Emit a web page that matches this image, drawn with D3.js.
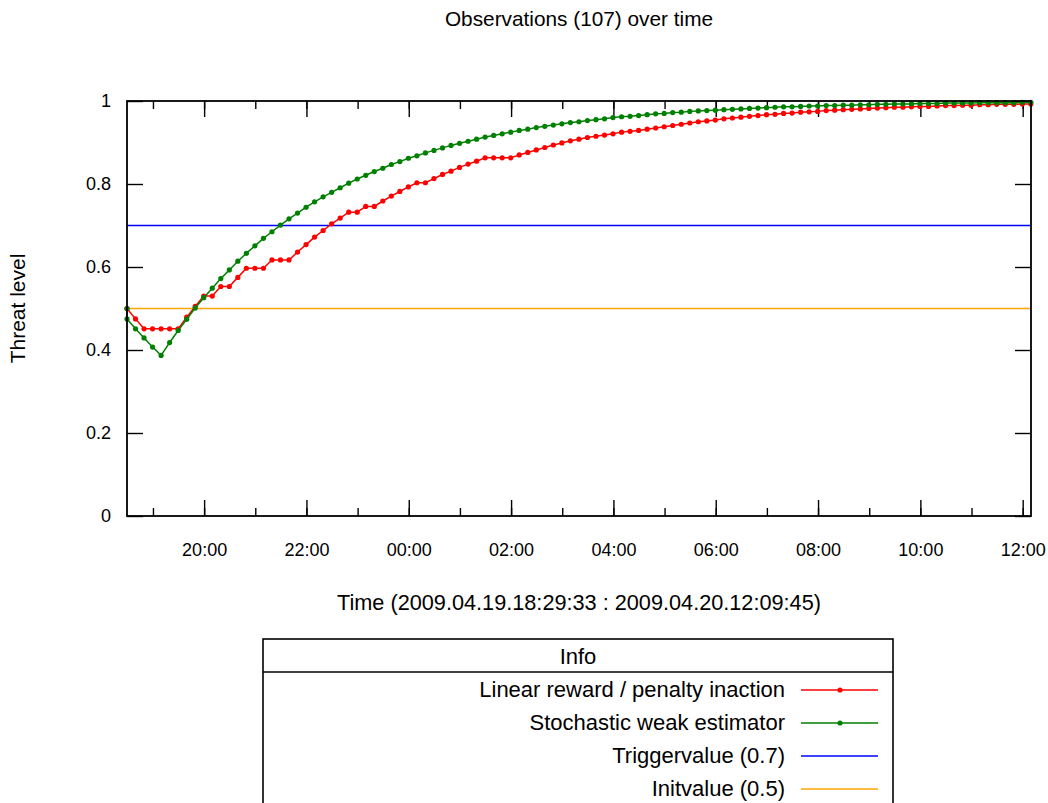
<!DOCTYPE html>
<html>
<head>
<meta charset="utf-8">
<script src="https://cdn.jsdelivr.net/npm/d3@7"></script>
<style>
  body { margin: 0; background: #fff; }
  svg { display: block; font-family: "Liberation Sans", Arial, sans-serif; }
</style>
</head>
<body>
<svg id="chart" width="1048" height="803"></svg>
<script>
// observation window and sampling
var startTime = "2009.04.19.18:29:33"
var endTime = "2009.04.20.12:09:45"
var stepMinutes = 10
var initValue = 0.5
var triggerValue = 0.7
var yTicks = [0, 0.2, 0.4, 0.6, 0.8, 1]
var legendNames = ["Linear reward / penalty inaction", "Stochastic weak estimator", "Triggervalue (0.7)", "Initvalue (0.5)"]
var legendColors = ["#ff0000", "#008000", "#0000ff", "#ffa500"]

// linear reward / penalty inaction, one value per observation
var lrpValues = [
  0.500, 0.475, 0.451, 0.451, 0.451, 0.451, 0.451, 0.479, 0.505, 0.530,
  0.530, 0.553, 0.553, 0.575, 0.597, 0.597, 0.597, 0.617, 0.617, 0.617,
  0.636, 0.654, 0.672, 0.688, 0.704, 0.718, 0.732, 0.732, 0.746, 0.746,
  0.759, 0.771, 0.782, 0.793, 0.803, 0.803, 0.813, 0.823, 0.831, 0.840,
  0.848, 0.855, 0.863, 0.863, 0.863, 0.863, 0.870, 0.876, 0.882, 0.888,
  0.894, 0.899, 0.904, 0.908, 0.912, 0.915, 0.918, 0.921, 0.925, 0.927,
  0.929, 0.932, 0.935, 0.938, 0.941, 0.944, 0.947, 0.950, 0.952, 0.954,
  0.957, 0.959, 0.961, 0.963, 0.965, 0.967, 0.968, 0.970, 0.971, 0.973,
  0.974, 0.975, 0.977, 0.978, 0.979, 0.980, 0.981, 0.982, 0.983, 0.984,
  0.985, 0.985, 0.986, 0.987, 0.987, 0.988, 0.989, 0.989, 0.990, 0.990,
  0.991, 0.991, 0.992, 0.992, 0.992, 0.993, 0.993
]

// stochastic weak estimator, one value per observation (plus the init point)
var sweValues = [
  0.475, 0.451, 0.429, 0.407, 0.387, 0.418, 0.447, 0.474, 0.501, 0.526,
  0.549, 0.572, 0.593, 0.614, 0.633, 0.651, 0.669, 0.685, 0.701, 0.716,
  0.730, 0.744, 0.757, 0.769, 0.780, 0.791, 0.802, 0.812, 0.821, 0.830,
  0.838, 0.847, 0.854, 0.862, 0.868, 0.875, 0.881, 0.887, 0.893, 0.898,
  0.903, 0.908, 0.913, 0.917, 0.921, 0.925, 0.929, 0.932, 0.936, 0.939,
  0.942, 0.945, 0.948, 0.950, 0.953, 0.955, 0.957, 0.960, 0.962, 0.963,
  0.965, 0.967, 0.969, 0.970, 0.972, 0.973, 0.975, 0.976, 0.977, 0.978,
  0.979, 0.980, 0.981, 0.982, 0.983, 0.984, 0.985, 0.986, 0.986, 0.987,
  0.988, 0.988, 0.989, 0.989, 0.990, 0.990, 0.991, 0.991, 0.992, 0.992,
  0.993, 0.993, 0.993, 0.994, 0.994, 0.994, 0.995, 0.995, 0.995, 0.995,
  0.996, 0.996, 0.996, 0.996, 0.996, 0.997, 0.997
]

var svg = d3.select("#chart")
var plotLeft = 127, plotRight = 1031, plotTop = 101, plotBottom = 516
var labelSize = 21

var parse = d3.timeParse("%Y.%m.%d.%H:%M:%S")
var t0 = parse(startTime)
var t1 = parse(endTime)

var x = d3.scaleTime().domain([t0, t1]).range([plotLeft, plotRight])
var y = d3.scaleLinear().domain([0, 1]).range([plotBottom, plotTop])

var lrp = lrpValues.map(function (v, i) { return { t: d3.timeMinute.offset(t0, i * stepMinutes), v: v } })
var swe = [{ t: t0, v: initValue }].concat(sweValues.map(function (v, i) {
  return { t: d3.timeMinute.offset(t0, i * stepMinutes), v: v }
}))

// axes, ticks pointing inward on all four sides
function styleAxis(g) {
  g.select(".domain").remove()
  g.selectAll("line").attr("stroke", "#000").attr("stroke-width", 1.4)
  g.attr("font-family", null).attr("font-size", 18)
  g.selectAll("text").attr("fill", "#000")
}

svg.append("g")
  .attr("transform", "translate(" + plotLeft + ",0)")
  .call(d3.axisLeft(y).tickValues(yTicks).tickSize(-16).tickPadding(16).tickFormat(d3.format("")))
  .call(styleAxis)

svg.append("g")
  .attr("transform", "translate(" + plotRight + ",0)")
  .call(d3.axisRight(y).tickValues(yTicks).tickSize(-16).tickFormat(""))
  .call(styleAxis)

svg.append("g")
  .attr("transform", "translate(0," + plotBottom + ")")
  .call(d3.axisBottom(x).ticks(d3.timeHour.every(1)).tickSize(-8).tickFormat(""))
  .call(styleAxis)

svg.append("g")
  .attr("transform", "translate(0," + plotBottom + ")")
  .call(d3.axisBottom(x).ticks(d3.timeHour.every(2)).tickSize(-16).tickPadding(27).tickFormat(d3.timeFormat("%H:%M")))
  .call(styleAxis)

svg.append("g")
  .attr("transform", "translate(0," + plotTop + ")")
  .call(d3.axisTop(x).ticks(d3.timeHour.every(1)).tickSize(-8).tickFormat(""))
  .call(styleAxis)

svg.append("g")
  .attr("transform", "translate(0," + plotTop + ")")
  .call(d3.axisTop(x).ticks(d3.timeHour.every(2)).tickSize(-16).tickFormat(""))
  .call(styleAxis)

// reference lines
svg.append("line")
  .attr("x1", plotLeft).attr("x2", plotRight)
  .attr("y1", y(triggerValue)).attr("y2", y(triggerValue))
  .attr("stroke", legendColors[2]).attr("stroke-width", 1.5)

svg.append("line")
  .attr("x1", plotLeft).attr("x2", plotRight)
  .attr("y1", y(initValue)).attr("y2", y(initValue))
  .attr("stroke", legendColors[3]).attr("stroke-width", 1.5)

var line = d3.line()
  .x(function (d) { return x(d.t) })
  .y(function (d) { return y(d.v) })

function drawSeries(data, color) {
  svg.append("path")
    .datum(data)
    .attr("fill", "none")
    .attr("stroke", color)
    .attr("stroke-width", 1.5)
    .attr("d", line)
  svg.append("g").selectAll("circle")
    .data(data)
    .enter()
    .append("circle")
    .attr("cx", function (d) { return x(d.t) })
    .attr("cy", function (d) { return y(d.v) })
    .attr("r", 2.6)
    .attr("fill", color)
}

drawSeries(lrp, legendColors[0])
drawSeries(swe, legendColors[1])

// frame
svg.append("rect")
  .attr("x", plotLeft).attr("y", plotTop)
  .attr("width", plotRight - plotLeft).attr("height", plotBottom - plotTop)
  .attr("fill", "none").attr("stroke", "#000").attr("stroke-width", 1.8)

// titles
svg.append("text")
  .attr("x", (plotLeft + plotRight) / 2).attr("y", 26)
  .attr("text-anchor", "middle").attr("font-size", 20.8)
  .text("Observations (107) over time")

svg.append("text")
  .attr("x", (plotLeft + plotRight) / 2).attr("y", 610)
  .attr("text-anchor", "middle").attr("font-size", 21.7)
  .text("Time (" + startTime + " : " + endTime + ")")

svg.append("text")
  .attr("transform", "translate(25," + ((plotTop + plotBottom) / 2) + ")rotate(-90)")
  .attr("text-anchor", "middle").attr("font-size", labelSize)
  .text("Threat level")

// legend box
var lg = svg.append("g")
lg.append("rect")
  .attr("x", 263).attr("y", 639)
  .attr("width", 630).attr("height", 200)
  .attr("fill", "none").attr("stroke", "#000").attr("stroke-width", 1.6)
lg.append("line")
  .attr("x1", 263).attr("x2", 893).attr("y1", 672).attr("y2", 672)
  .attr("stroke", "#000").attr("stroke-width", 1.6)
lg.append("text")
  .attr("x", 578).attr("y", 664)
  .attr("text-anchor", "middle").attr("font-size", 22)
  .text("Info")

legendNames.forEach(function (name, i) {
  var cy = 690 + i * 33
  lg.append("text")
    .attr("x", 785).attr("y", cy + 7)
    .attr("text-anchor", "end").attr("font-size", 22)
    .text(name)
  lg.append("line")
    .attr("x1", 801).attr("x2", 878).attr("y1", cy).attr("y2", cy)
    .attr("stroke", legendColors[i]).attr("stroke-width", 1.5)
  if (i < 2) {
    lg.append("circle")
      .attr("cx", 840).attr("cy", cy).attr("r", 2.6)
      .attr("fill", legendColors[i])
  }
})
</script>
</body>
</html>
